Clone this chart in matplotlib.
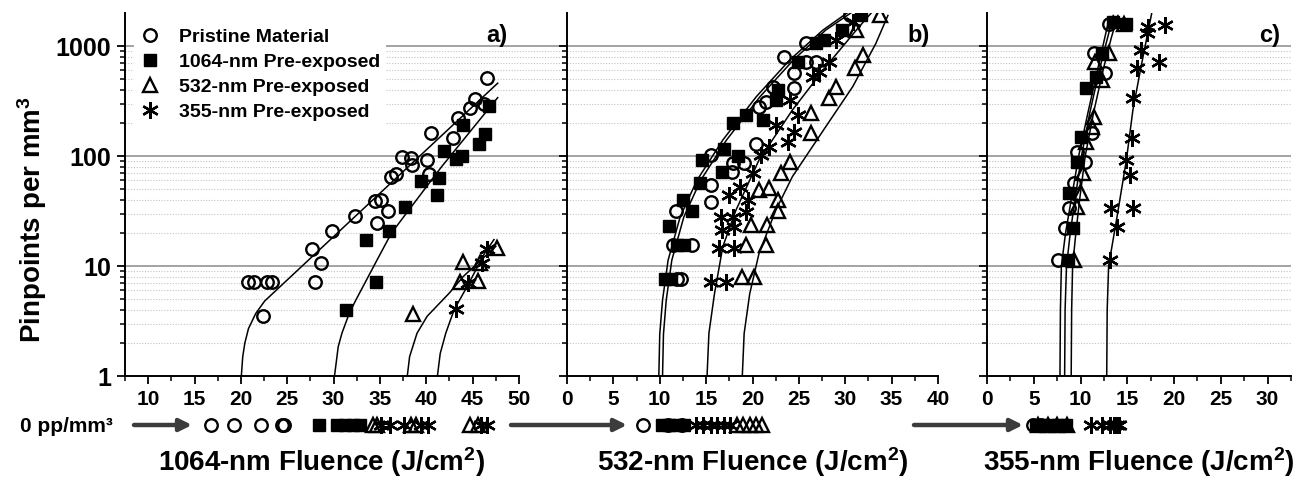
import numpy as np
import matplotlib
matplotlib.use('Agg')
import matplotlib.pyplot as plt
from matplotlib.ticker import FixedLocator, MultipleLocator, NullFormatter

plt.rcParams['font.family'] = ['Liberation Sans', 'DejaVu Sans']
plt.rcParams['font.weight'] = 'bold'
plt.rcParams['axes.labelweight'] = 'bold'
plt.rcParams['mathtext.fontset'] = 'custom'
plt.rcParams['mathtext.rm'] = 'Liberation Sans:bold'
plt.rcParams['mathtext.bf'] = 'Liberation Sans:bold'
plt.rcParams['mathtext.it'] = 'Liberation Sans:bold'
plt.rcParams['mathtext.default'] = 'bf'

# ---------------- panel a) 1064-nm ----------------
a_pristine_x = [20.8, 21.4, 22.8, 23.4, 22.4, 27.7, 28.0, 28.6, 29.8, 32.3, 34.5, 35.1, 34.7,
                35.9, 36.2, 36.7, 37.4, 38.4, 38.5, 40.1, 40.3, 40.5, 42.9, 43.4, 44.7, 45.3,
                46.2, 46.6]
a_pristine_y = [7.1, 7.1, 7.1, 7.1, 3.5, 14.3, 7.1, 10.6, 20.7, 28.4, 38.9, 40, 24.7,
                31.5, 64.8, 68, 98, 96.6, 82.8, 92, 69, 163, 147, 224, 276, 329,
                296, 518]
a_1064_x = [31.3, 33.5, 34.6, 36.0, 37.75, 39.4, 41.4, 41.2, 41.95, 43.2, 43.9, 44.0, 45.7, 46.3, 46.8]
a_1064_y = [4.0, 17.1, 7.1, 21.0, 34.5, 59, 63.5, 43.8, 111, 94.6, 101, 190, 130, 158, 286]
a_532_x = [38.6, 43.6, 44.0, 45.6, 45.8, 47.6]
a_532_y = [3.7, 7.2, 10.9, 7.3, 10.6, 14.6]
a_355_x = [43.2, 44.5, 46.0, 46.5]
a_355_y = [4.05, 7.0, 10.6, 14.3]

a_fit_pristine_x = [20.05, 20.2, 20.43, 20.82, 21.6, 22.56, 47.7]
a_fit_pristine_y = [1, 1.5, 2.0, 2.7, 3.7, 4.8, 460]
a_fit_1064_x = [30.1, 30.5, 30.9, 31.7, 32.4, 34.7, 36.25, 41.7, 47.7]
a_fit_1064_y = [1, 1.85, 2.45, 3.73, 4.9, 11.4, 20, 81, 340]
a_fit_532_x = [37.95, 38.2, 39.0, 40.1, 42.5, 44.0, 47.5]
a_fit_532_y = [1, 1.5, 2.45, 3.5, 5.7, 8.05, 15.1]
a_fit_355_x = [41.2, 41.5, 42.1, 43.0, 44.4, 46.3, 47.3]
a_fit_355_y = [1, 1.6, 2.45, 4.0, 6.5, 13.1, 17.4]

# zero-count shots (drawn in the strip under each panel)
a_zero_pristine = [16.8, 19.3, 22.2, 24.4, 24.6]
a_zero_1064 = [28.4, 30.4, 31.2, 32.1, 32.9]
a_zero_532 = [34.2, 34.7, 38.3, 38.9, 44.7, 45.6]
a_zero_355 = [35.1, 36.1, 37.6, 39.4, 40.2, 45.9, 46.5]

# ---------------- panel b) 532-nm ----------------
b_pristine_x = [11.9, 12.3, 11.4, 13.5, 11.8, 15.5, 15.5, 15.5, 17.9, 17.8, 19.1, 20.4, 20.7,
                21.5, 22.2, 24.5, 24.5, 25.8, 26.9, 23.4, 25.8, 30.5]
b_pristine_y = [7.7, 7.7, 15.5, 15.5, 31.8, 37.9, 54.5, 102, 85.7, 71, 85.7, 130, 281,
                312, 421, 412, 565, 721, 721, 788, 1057, 1900]
b_1064_x = [10.6, 11.2, 11.0, 11.9, 12.6, 12.5, 13.5, 14.3, 14.6, 16.7, 16.95, 18.4, 17.9,
            19.3, 21.1, 22.5, 22.7, 24.9, 26.9, 27.75, 29.7, 31.7]
b_1064_y = [7.7, 7.7, 23.1, 15.5, 15.5, 39.8, 31.8, 56.4, 92, 72, 117, 100, 198,
            236, 212, 323, 398, 721, 1057, 1135, 1400, 1900]
b_532_x = [18.9, 20.2, 19.3, 21.5, 19.8, 21.6, 22.7, 22.7, 20.7, 21.8, 23.1, 24.0, 26.3,
           26.3, 28.3, 29.0, 31.0, 31.9, 31.2, 33.7]
b_532_y = [8.0, 8.0, 15.5, 15.5, 23.6, 23.6, 31.8, 39.8, 49, 50.8, 69.5, 88.8, 161,
           244, 334, 427, 627, 829, 1400, 1900]
b_355_x = [15.5, 17.1, 16.35, 18.0, 16.7, 16.6, 17.85, 18.0, 17.5, 18.6, 19.3, 19.5, 20.0,
           20.9, 21.8, 22.5, 23.8, 24.0, 24.9, 24.5, 26.5, 27.2, 28.2, 29.0, 30.8]
b_355_y = [7.2, 7.2, 14.5, 14.5, 21.2, 28.1, 28.1, 22.8, 44.2, 52.6, 31.2, 39.8, 69.5,
           102, 122, 191, 135, 323, 236, 166, 526, 585, 721, 1135, 1665]

b_fit_1064_x = [9.9, 10.0, 10.3, 10.9, 12.2, 14.0, 16.8, 20.4, 24.0, 27.6, 30.2]
b_fit_1064_y = [1, 2.4, 4.9, 11.3, 28, 60, 140, 346, 746, 1400, 2000]
b_fit_pristine_x = [10.3, 10.4, 10.7, 11.3, 12.6, 14.4, 17.2, 20.8, 24.4, 27.9, 30.6]
b_fit_pristine_y = [1, 2.4, 4.9, 11.3, 28, 60, 140, 346, 746, 1400, 2000]
b_fit_355_x = [15.1, 15.3, 15.9, 16.8, 18.2, 20.7, 24.3, 27.9, 31.5, 32.8]
b_fit_355_y = [1, 2.44, 5.6, 15, 32, 92, 262, 649, 1500, 2000]
b_fit_532_x = [18.9, 19.1, 19.7, 20.7, 22.5, 24.3, 27.9, 30.8, 33.3, 34.6]
b_fit_532_y = [1, 2.44, 5.6, 13, 32, 65, 185, 427, 1057, 1900]

b_zero_pristine = [8.2, 10.9, 12.4]
b_zero_1064 = [10.2, 11.0, 11.8, 12.6]
b_zero_532 = [18.3, 19.0, 19.7, 20.4, 21.0]
b_zero_355 = [13.9, 14.7, 15.5, 16.2, 16.9, 17.6]

# ---------------- panel c) 355-nm ----------------
c_pristine_x = [7.6, 8.3, 8.8, 9.3, 9.6, 10.5, 11.2, 12.6, 11.4, 13.0]
c_pristine_y = [11.3, 22, 33.4, 56.5, 109, 89, 161, 565, 858, 1600]
c_1064_x = [8.7, 9.2, 8.8, 9.6, 10.0, 10.6, 11.7, 12.25, 13.5, 14.9]
c_1064_y = [11.3, 22, 45.8, 89, 150, 412, 526, 858, 1665, 1600]
c_532_x = [9.3, 9.6, 10.1, 10.3, 10.6, 11.2, 11.4, 12.25, 11.5, 13.0, 14.6]
c_532_y = [11.3, 34.6, 45.8, 69.5, 135, 185, 228, 491, 721, 858, 1600]
c_355_x = [13.1, 13.9, 13.3, 15.6, 15.3, 14.9, 15.5, 15.6, 16.0, 16.5, 18.4, 17.1, 17.25, 19.0]
c_355_y = [11.3, 22.8, 33.4, 33.4, 67, 92, 145, 334, 626, 920, 721, 1304, 1500, 1550]

c_fit_pristine_x = [7.8, 7.85, 7.95, 8.4, 9.0, 9.8, 10.8, 11.8, 12.6, 13.0]
c_fit_pristine_y = [1, 4, 10, 20, 40, 100, 250, 600, 1200, 1700]
c_fit_1064_x = [8.3, 8.35, 8.5, 8.9, 9.4, 10.1, 11.0, 12.0, 12.9, 13.5]
c_fit_1064_y = [1, 4, 10, 20, 40, 100, 250, 600, 1200, 1900]
c_fit_532_x = [9.0, 9.05, 9.15, 9.5, 9.9, 10.5, 11.4, 12.4, 13.3, 14.0]
c_fit_532_y = [1, 4, 10, 20, 40, 100, 250, 600, 1200, 1900]
c_fit_355_x = [12.8, 12.85, 13.0, 13.9, 14.9, 15.6, 16.4, 17.25, 17.6]
c_fit_355_y = [1, 4, 10, 28, 92, 263, 605, 1400, 1970]

c_zero_pristine = [4.9, 5.8]
c_zero_1064 = [5.2, 6.0, 6.8, 7.6, 8.4]
c_zero_532 = [5.5, 6.5, 7.5, 8.6]
c_zero_355 = [11.1, 12.3, 13.2, 13.6, 13.9, 14.1]

series_names = ['Pristine Material', '1064-nm Pre-exposed', '532-nm Pre-exposed', '355-nm Pre-exposed']
panel_tags = ['a)', 'b)', 'c)']
x_titles = ['1064-nm Fluence (J/cm$^{2}$)', '532-nm Fluence (J/cm$^{2}$)', '355-nm Fluence (J/cm$^{2}$)']
y_ticks = [1, 10, 100, 1000]
y_tick_labels = ['1', '10', '100', '1000']

STYLE = {
    'pristine': dict(marker='o', mfc='none', mec='k', mew=1.7, ms=9),
    '1064': dict(marker='s', mfc='k', mec='k', mew=1.0, ms=8.5),
    '532': dict(marker='^', mfc='none', mec='k', mew=1.7, ms=9.5),
    '355': dict(marker=(6, 2, 0), mfc='k', mec='k', mew=1.7, ms=12),
}
ORDER = ['pristine', '1064', '532', '355']
ZERO_ORDER = ['532', 'pristine', '355', '1064']

panels = [
    dict(pts={'pristine': (a_pristine_x, a_pristine_y), '1064': (a_1064_x, a_1064_y),
              '532': (a_532_x, a_532_y), '355': (a_355_x, a_355_y)},
         fits=[(a_fit_pristine_x, a_fit_pristine_y), (a_fit_1064_x, a_fit_1064_y),
               (a_fit_532_x, a_fit_532_y), (a_fit_355_x, a_fit_355_y)],
         zero={'pristine': a_zero_pristine, '1064': a_zero_1064, '532': a_zero_532, '355': a_zero_355},
         xlim=(7.5, 50), px=(125, 519), tag_x=0.97),
    dict(pts={'pristine': (b_pristine_x, b_pristine_y), '1064': (b_1064_x, b_1064_y),
              '532': (b_532_x, b_532_y), '355': (b_355_x, b_355_y)},
         fits=[(b_fit_pristine_x, b_fit_pristine_y), (b_fit_1064_x, b_fit_1064_y),
               (b_fit_532_x, b_fit_532_y), (b_fit_355_x, b_fit_355_y)],
         zero={'pristine': b_zero_pristine, '1064': b_zero_1064, '532': b_zero_532, '355': b_zero_355},
         xlim=(0, 40), px=(567, 938), tag_x=0.978),
    dict(pts={'pristine': (c_pristine_x, c_pristine_y), '1064': (c_1064_x, c_1064_y),
              '532': (c_532_x, c_532_y), '355': (c_355_x, c_355_y)},
         fits=[(c_fit_pristine_x, c_fit_pristine_y), (c_fit_1064_x, c_fit_1064_y),
               (c_fit_532_x, c_fit_532_y), (c_fit_355_x, c_fit_355_y)],
         zero={'pristine': c_zero_pristine, '1064': c_zero_1064, '532': c_zero_532, '355': c_zero_355},
         xlim=(0, 32.5), px=(987, 1291), tag_x=0.964),
]

W, H = 1302, 478
AX_TOP, AX_BOT = 13, 376
minor_y = [m * 10 ** e for e in range(3) for m in range(2, 10)]


def main():
    fig = plt.figure(figsize=(W / 100, H / 100), dpi=100)
    bottom = (H - AX_BOT) / H
    height = (AX_BOT - AX_TOP) / H

    # grid lines run across all three panels
    bg = fig.add_axes([125 / W, bottom, (1291 - 125) / W, height])
    bg.set_yscale('log')
    bg.set_ylim(1, 2000)
    bg.set_xlim(0, 1)
    bg.yaxis.set_major_locator(FixedLocator([10, 100, 1000]))
    bg.yaxis.set_minor_locator(FixedLocator(minor_y))
    bg.grid(which='major', axis='y', color='#8a8a8a', lw=1.1)
    bg.grid(which='minor', axis='y', color='#c4c4c4', lw=0.8, ls=(0, (1, 1.5)))
    bg.tick_params(which='both', left=False, labelleft=False, bottom=False, labelbottom=False)
    for s in bg.spines.values():
        s.set_visible(False)

    for i, p in enumerate(panels):
        x0, x1 = p['px']
        ax = fig.add_axes([x0 / W, bottom, (x1 - x0) / W, height])
        ax.patch.set_visible(False)
        handles = []
        for fx, fy in p['fits']:
            ax.plot(fx, fy, color='k', lw=1.1, zorder=2)
        for key in ORDER:
            x, y = p['pts'][key]
            h, = ax.plot(x, y, ls='none', zorder=3, **STYLE[key])
            handles.append(h)
        ax.set_yscale('log')
        ax.set_ylim(1, 2000)
        ax.set_xlim(*p['xlim'])
        ax.yaxis.set_major_locator(FixedLocator(y_ticks))
        ax.yaxis.set_minor_locator(FixedLocator(minor_y))
        ax.yaxis.set_minor_formatter(NullFormatter())
        ax.xaxis.set_major_locator(MultipleLocator(5))
        ax.xaxis.set_minor_locator(MultipleLocator(2.5))
        ax.tick_params(which='major', direction='out', length=6, width=1.3, labelsize=15, pad=4)
        ax.tick_params(which='minor', direction='out', length=3.5, width=1.1)
        for s in ['top', 'right']:
            ax.spines[s].set_visible(False)
        for s in ['left', 'bottom']:
            ax.spines[s].set_linewidth(1.4)
        if i == 0:
            ax.set_yticklabels(y_tick_labels, fontsize=18, fontweight='bold')
            ax.set_ylabel('Pinpoints per mm$^{3}$', fontsize=20, fontweight='bold', va='center')
            ax.yaxis.set_label_coords(-0.236, 0.43)
            leg = ax.legend(handles, series_names, loc='upper left', bbox_to_anchor=(0.023, 0.975),
                            fontsize=14, handlelength=1.0, handletextpad=1.0, labelspacing=0.38,
                            borderpad=0.3, borderaxespad=0, frameon=True, fancybox=False,
                            framealpha=1, facecolor='white', edgecolor='none')
            leg.set_zorder(5)
        else:
            ax.tick_params(axis='y', which='both', labelleft=False)
        for t in ax.get_xticklabels():
            t.set_fontweight('bold')
        ax.set_xlabel(x_titles[i], fontsize=20, fontweight='bold', va='center')
        ax.xaxis.set_label_coords(0.5, -0.237)
        ax.text(p['tag_x'], 0.939, panel_tags[i], transform=ax.transAxes,
                ha='right', va='center', fontsize=17, fontweight='bold')

        # strip of zero-count shots below the axis
        strip = fig.add_axes([x0 / W, (H - 437) / H, (x1 - x0) / W, 24 / H], sharex=ax)
        strip.set_ylim(-1, 1)
        strip.axis('off')
        for key in ZERO_ORDER:
            zx = p['zero'][key]
            strip.plot(zx, np.zeros(len(zx)), ls='none', clip_on=False, **STYLE[key])

    fig.text(20 / W, 1 - 426 / H, '0 pp/mm³', fontsize=15, fontweight='bold', ha='left', va='center')
    for xa, xb in [(134, 192), (511, 627), (914, 1023)]:
        bg.annotate('', xy=(xb, H - 425), xytext=(xa, H - 425), xycoords='figure pixels',
                    textcoords='figure pixels',
                    arrowprops=dict(arrowstyle='-|>', lw=3.2, color='#3c3c3c',
                                    mutation_scale=18, shrinkA=0, shrinkB=0))

    fig.savefig('out.png', dpi=100)


if __name__ == '__main__':
    main()
